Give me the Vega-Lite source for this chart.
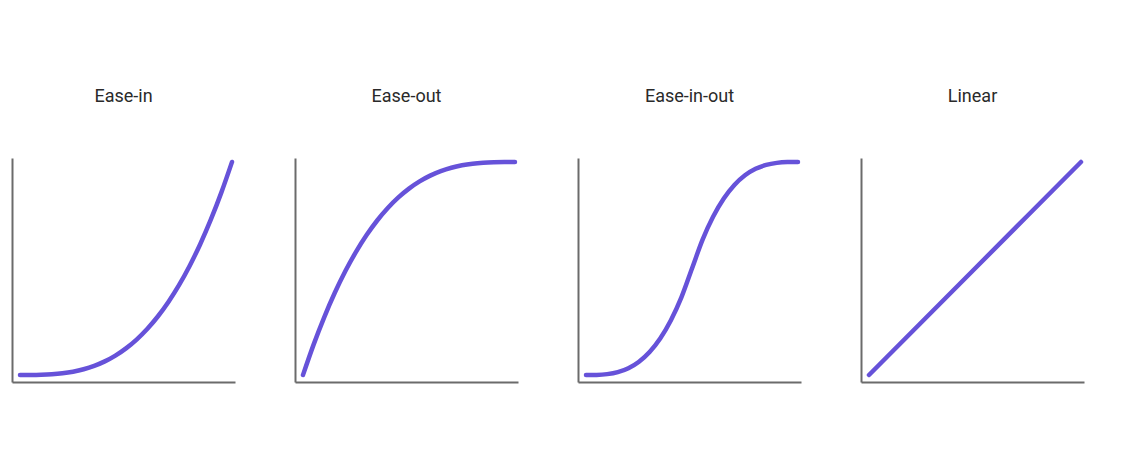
{
  "$schema": "https://vega.github.io/schema/vega-lite/v6.json",
  "autosize": {"type": "pad"},
  "padding": {"left": 10, "top": 88, "right": 0, "bottom": 0},
  "background": "white",
  "config": {
    "view": {"stroke": null},
    "font": "Roboto",
    "title": {"fontSize": 18, "fontWeight": "normal", "color": "#2a2a2a", "font": "Roboto", "offset": 47, "baseline": "alphabetic"},
    "axis": {"domainColor": "#6b6b6b", "domainWidth": 2, "grid": false, "ticks": false, "labels": false, "title": null},
    "concat": {"spacing": 52}
  },
  "datasets": {
    "curves": [
      {"p": "Ease-in", "t": 0, "v": 0}, {"p": "Ease-in", "t": 0.05, "v": 0.000125}, {"p": "Ease-in", "t": 0.1, "v": 0.001}, {"p": "Ease-in", "t": 0.15, "v": 0.003375}, {"p": "Ease-in", "t": 0.2, "v": 0.008}, {"p": "Ease-in", "t": 0.25, "v": 0.015625}, {"p": "Ease-in", "t": 0.3, "v": 0.027}, {"p": "Ease-in", "t": 0.35, "v": 0.042875}, {"p": "Ease-in", "t": 0.4, "v": 0.064}, {"p": "Ease-in", "t": 0.45, "v": 0.091125}, {"p": "Ease-in", "t": 0.5, "v": 0.125}, {"p": "Ease-in", "t": 0.55, "v": 0.166375}, {"p": "Ease-in", "t": 0.6, "v": 0.216}, {"p": "Ease-in", "t": 0.65, "v": 0.274625}, {"p": "Ease-in", "t": 0.7, "v": 0.343}, {"p": "Ease-in", "t": 0.75, "v": 0.421875}, {"p": "Ease-in", "t": 0.8, "v": 0.512}, {"p": "Ease-in", "t": 0.85, "v": 0.614125}, {"p": "Ease-in", "t": 0.9, "v": 0.729}, {"p": "Ease-in", "t": 0.95, "v": 0.857375}, {"p": "Ease-in", "t": 1, "v": 1},
      {"p": "Ease-out", "t": 0, "v": 0}, {"p": "Ease-out", "t": 0.05, "v": 0.142625}, {"p": "Ease-out", "t": 0.1, "v": 0.271}, {"p": "Ease-out", "t": 0.15, "v": 0.385875}, {"p": "Ease-out", "t": 0.2, "v": 0.488}, {"p": "Ease-out", "t": 0.25, "v": 0.578125}, {"p": "Ease-out", "t": 0.3, "v": 0.657}, {"p": "Ease-out", "t": 0.35, "v": 0.725375}, {"p": "Ease-out", "t": 0.4, "v": 0.784}, {"p": "Ease-out", "t": 0.45, "v": 0.833625}, {"p": "Ease-out", "t": 0.5, "v": 0.875}, {"p": "Ease-out", "t": 0.55, "v": 0.908875}, {"p": "Ease-out", "t": 0.6, "v": 0.936}, {"p": "Ease-out", "t": 0.65, "v": 0.957125}, {"p": "Ease-out", "t": 0.7, "v": 0.973}, {"p": "Ease-out", "t": 0.75, "v": 0.984375}, {"p": "Ease-out", "t": 0.8, "v": 0.992}, {"p": "Ease-out", "t": 0.85, "v": 0.996625}, {"p": "Ease-out", "t": 0.9, "v": 0.999}, {"p": "Ease-out", "t": 0.95, "v": 0.999875}, {"p": "Ease-out", "t": 1, "v": 1},
      {"p": "Ease-in-out", "t": 0, "v": 0}, {"p": "Ease-in-out", "t": 0.05, "v": 0.0005}, {"p": "Ease-in-out", "t": 0.1, "v": 0.004}, {"p": "Ease-in-out", "t": 0.15, "v": 0.0135}, {"p": "Ease-in-out", "t": 0.2, "v": 0.032}, {"p": "Ease-in-out", "t": 0.25, "v": 0.0625}, {"p": "Ease-in-out", "t": 0.3, "v": 0.108}, {"p": "Ease-in-out", "t": 0.35, "v": 0.1715}, {"p": "Ease-in-out", "t": 0.4, "v": 0.256}, {"p": "Ease-in-out", "t": 0.45, "v": 0.3645}, {"p": "Ease-in-out", "t": 0.5, "v": 0.5}, {"p": "Ease-in-out", "t": 0.55, "v": 0.6355}, {"p": "Ease-in-out", "t": 0.6, "v": 0.744}, {"p": "Ease-in-out", "t": 0.65, "v": 0.8285}, {"p": "Ease-in-out", "t": 0.7, "v": 0.892}, {"p": "Ease-in-out", "t": 0.75, "v": 0.9375}, {"p": "Ease-in-out", "t": 0.8, "v": 0.968}, {"p": "Ease-in-out", "t": 0.85, "v": 0.9865}, {"p": "Ease-in-out", "t": 0.9, "v": 0.996}, {"p": "Ease-in-out", "t": 0.95, "v": 0.9995}, {"p": "Ease-in-out", "t": 1, "v": 1},
      {"p": "Linear", "t": 0, "v": 0}, {"p": "Linear", "t": 0.25, "v": 0.25}, {"p": "Linear", "t": 0.5, "v": 0.5}, {"p": "Linear", "t": 0.75, "v": 0.75}, {"p": "Linear", "t": 1, "v": 1}
    ]
  },
  "data": {"name": "curves"},
  "hconcat": [
    {
      "title": "Ease-in",
      "width": 223, "height": 224,
      "transform": [{"filter": "datum.p === 'Ease-in'"}],
      "mark": {"type": "line", "color": "#6652d9", "strokeWidth": 4.5, "strokeCap": "round", "interpolate": "monotone"},
      "encoding": {
        "x": {"field": "t", "type": "quantitative", "scale": {"domain": [-0.0377, 1.0142], "nice": false, "zero": false}},
        "y": {"field": "v", "type": "quantitative", "scale": {"domain": [-0.0329, 1.0188], "nice": false, "zero": false}}
      }
    },
    {
      "title": "Ease-out",
      "width": 223, "height": 224,
      "transform": [{"filter": "datum.p === 'Ease-out'"}],
      "mark": {"type": "line", "color": "#6652d9", "strokeWidth": 4.5, "strokeCap": "round", "interpolate": "monotone"},
      "encoding": {
        "x": {"field": "t", "type": "quantitative", "scale": {"domain": [-0.0377, 1.0142], "nice": false, "zero": false}},
        "y": {"field": "v", "type": "quantitative", "scale": {"domain": [-0.0329, 1.0188], "nice": false, "zero": false}}
      }
    },
    {
      "title": "Ease-in-out",
      "width": 223, "height": 224,
      "transform": [{"filter": "datum.p === 'Ease-in-out'"}],
      "mark": {"type": "line", "color": "#6652d9", "strokeWidth": 4.5, "strokeCap": "round", "interpolate": "monotone"},
      "encoding": {
        "x": {"field": "t", "type": "quantitative", "scale": {"domain": [-0.0377, 1.0142], "nice": false, "zero": false}},
        "y": {"field": "v", "type": "quantitative", "scale": {"domain": [-0.0329, 1.0188], "nice": false, "zero": false}}
      }
    },
    {
      "title": "Linear",
      "width": 223, "height": 224,
      "transform": [{"filter": "datum.p === 'Linear'"}],
      "mark": {"type": "line", "color": "#6652d9", "strokeWidth": 4.5, "strokeCap": "round", "interpolate": "linear"},
      "encoding": {
        "x": {"field": "t", "type": "quantitative", "scale": {"domain": [-0.0377, 1.0142], "nice": false, "zero": false}},
        "y": {"field": "v", "type": "quantitative", "scale": {"domain": [-0.0329, 1.0188], "nice": false, "zero": false}}
      }
    }
  ]
}
